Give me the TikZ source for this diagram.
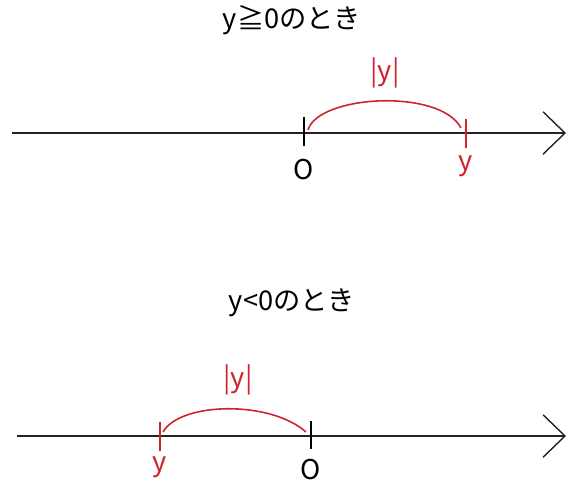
\documentclass[tikz,border=0pt]{standalone}
\usepackage{fontspec}
\setmainfont{Noto Sans CJK JP}
\usetikzlibrary{arrows.meta}
\definecolor{rosso}{RGB}{205,35,45}
\definecolor{asse}{RGB}{35,35,35}
\begin{document}
\begin{tikzpicture}[x=0.02cm, y=-0.02cm, font=\fontsize{15.5}{18}\selectfont,
    retta/.style={asse, line width=1.2pt, -{Straight Barb[length=0.44cm, width=0.85cm, line width=0.8pt]}},
    tacca/.style={line width=1.2pt},
    arco/.style={rosso, line width=0.9pt}]
        \useasboundingbox (0, 0) rectangle (568, 484);

        % Caso y >= 0
        \node (titolo1) at (292, 20) {y≧0のとき};
        \coordinate (inizio1) at (12, 133);
        \coordinate (fine1) at (566, 133);
        \coordinate (O1) at (304, 133);
        \coordinate (Y1) at (466, 133);
        \draw[retta] (inizio1) -- (fine1);
        \draw[tacca] (O1) ++(0, -16) -- ++(0, 29);
        \draw[tacca, rosso] (Y1) ++(0, -14) -- ++(0, 29);
        \node (o1) at (304, 170) {O};
        \node[rosso] (y1) at (466, 166) {y};
        \draw[arco] (308, 130) .. controls (318, 95) and (440, 88) .. (461, 128);
        \node[rosso] (abs1) at (385, 73) {|y|};

        % Caso y < 0
        \node (titolo2) at (292, 303) {y<0のとき};
        \coordinate (inizio2) at (17, 436);
        \coordinate (fine2) at (566, 436);
        \coordinate (O2) at (311, 436);
        \coordinate (Y2) at (160, 436);
        \draw[retta] (inizio2) -- (fine2);
        \draw[tacca] (O2) ++(0, -15) -- ++(0, 28);
        \draw[tacca, rosso] (Y2) ++(0, -14) -- ++(0, 29);
        \node (o2) at (311, 470) {O};
        \node[rosso] (y2) at (160, 467) {y};
        \draw[arco] (163, 432) .. controls (180, 402) and (270, 400) .. (306, 432);
        \node[rosso] (abs2) at (238, 380) {|y|};

    \end{tikzpicture}
\end{document}
